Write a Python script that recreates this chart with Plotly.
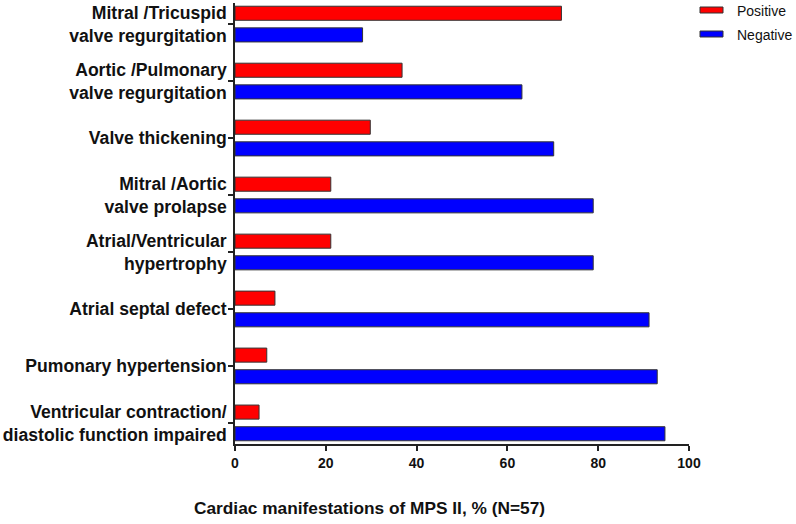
import plotly.graph_objects as go

# ----- Data (% of N=57) -----
categories = [
    "Mitral /Tricuspid<br>valve regurgitation",
    "Aortic /Pulmonary<br>valve regurgitation",
    "Valve thickening",
    "Mitral /Aortic<br>valve prolapse",
    "Atrial/Ventricular<br>hypertrophy",
    "Atrial septal defect",
    "Pumonary hypertension",
    "Ventricular contraction/<br>diastolic function impaired",
]
positive = [71.9, 36.8, 29.8, 21.1, 21.1, 8.8, 7.0, 5.3]
negative = [28.1, 63.2, 70.2, 78.9, 78.9, 91.2, 93.0, 94.7]
series_names = ["Positive", "Negative"]
series_colors = ["#ff0000", "#0000ff"]
x_ticks = [0, 20, 40, 60, 80, 100]

FONT = "Liberation Sans, Arial, sans-serif"

# plot area in pixels
W, H = 796, 524
L, R, T, B = 235, 107, 3, 80
PW, PH = W - L - R, H - T - B


def px(x):
    return (x - L) / PW


def py(y):
    return (H - B - y) / PH


fig = go.Figure()
for name, vals, col in zip(series_names, [positive, negative], series_colors):
    fig.add_trace(go.Bar(y=categories, x=vals, orientation='h', name=name,
                         showlegend=False,
                         marker=dict(color=col, line=dict(color='#333333', width=1))))

# ----- Layout -----
fig.update_layout(
    width=W, height=H,
    margin=dict(l=L, r=R, t=T, b=B),
    plot_bgcolor='white', paper_bgcolor='white',
    barmode='group', bargap=0.24, bargroupgap=0.35,
    font=dict(family=FONT, color='#111111'),
    xaxis=dict(range=[0, 100], tickvals=x_ticks, showgrid=False, zeroline=False,
               showline=True, linecolor='#222222', linewidth=1.5, automargin=False,
               ticks='outside', ticklen=5, tickwidth=1.5, tickcolor='#222222',
               tickfont=dict(size=14, family=FONT, color='#111111', weight='bold')),
    yaxis=dict(categoryorder='array', categoryarray=categories,
               range=[7.37, -0.37], showgrid=False, zeroline=False,
               showline=True, linecolor='#222222', linewidth=1.5, automargin=False,
               ticks='outside', ticklen=5, tickwidth=1.5, tickcolor='#222222',
               ticklabelstandoff=-2,
               tickfont=dict(size=17.6, family=FONT, color='#111111', weight='bold')),
)

# x-axis title (sits left of the plot centre, as in the original)
fig.add_annotation(text="Cardiac manifestations of MPS II, % (N=57)",
                   xref='paper', yref='paper', x=px(369), y=py(508),
                   xanchor='center', yanchor='middle', showarrow=False,
                   font=dict(size=17.3, family=FONT, color='#111111', weight='bold'))

# legend drawn as swatches + labels
for i, (name, col) in enumerate(zip(series_names, series_colors)):
    cy = 10 + 24 * i
    fig.add_shape(type='rect', xref='paper', yref='paper',
                  x0=px(700), x1=px(723), y0=py(cy - 3), y1=py(cy + 3),
                  fillcolor=col, line=dict(color='#333333', width=1))
    fig.add_annotation(text=name, xref='paper', yref='paper',
                       x=px(735), y=py(cy + 1), xanchor='left', yanchor='middle',
                       showarrow=False,
                       font=dict(size=14, family=FONT, color='#111111'))

# drop the default page margin so the figure fills the window
fig.write_html("out.html", config={'displayModeBar': False},
               post_script="document.body.style.margin='0px';")
